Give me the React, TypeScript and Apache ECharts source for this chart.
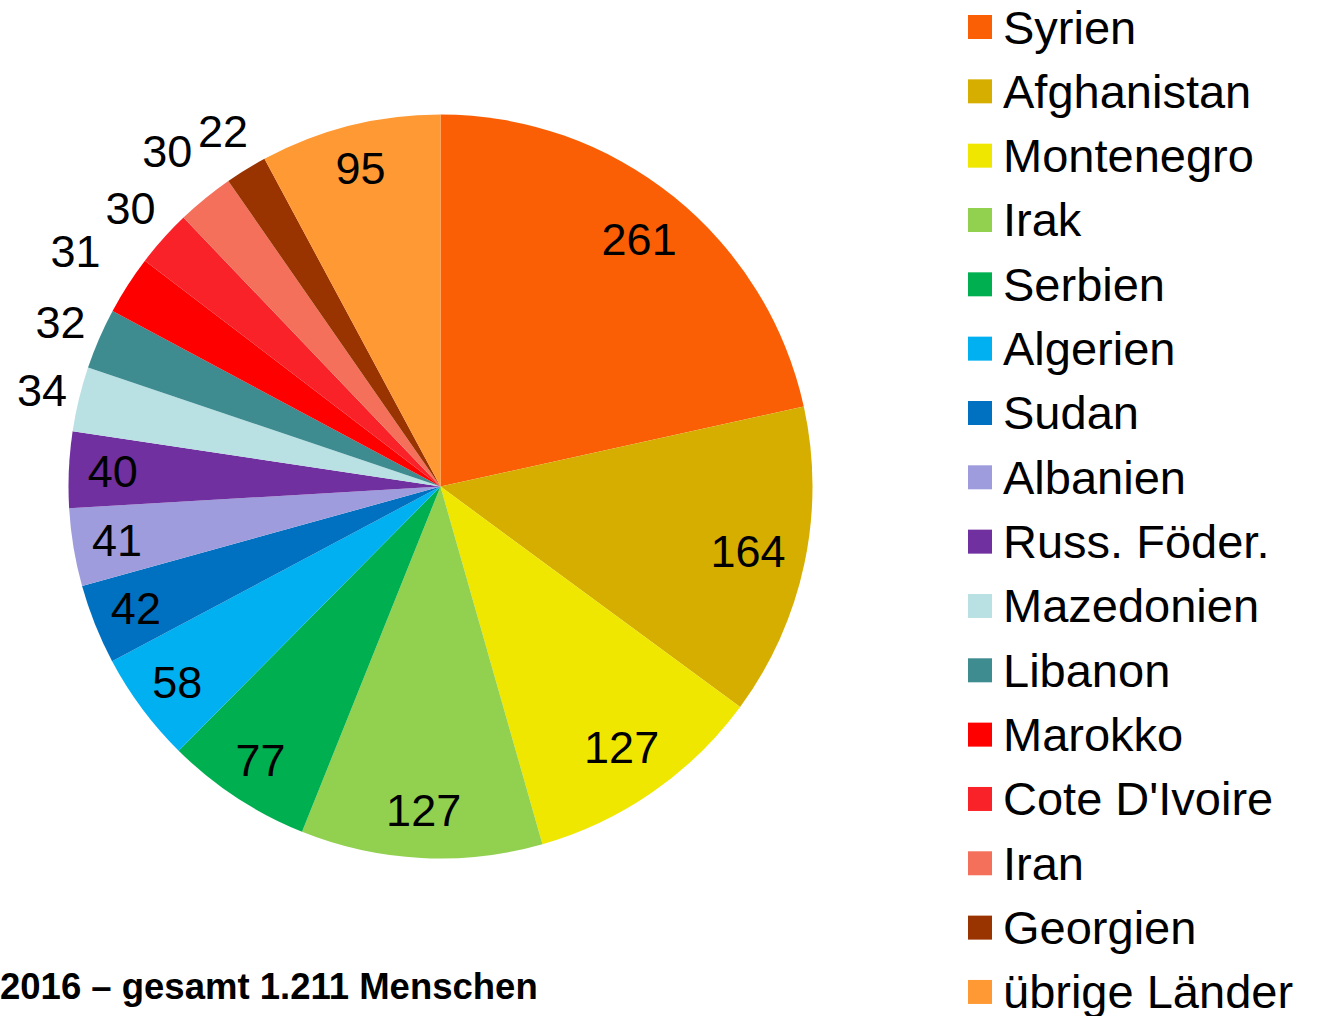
import React, { useEffect, useRef } from "react";
import * as echarts from "echarts";

const countries = [
  "Syrien", "Afghanistan", "Montenegro", "Irak", "Serbien", "Algerien", "Sudan", "Albanien",
  "Russ. Föder.", "Mazedonien", "Libanon", "Marokko", "Cote D'Ivoire", "Iran", "Georgien", "übrige Länder",
];
const persons = [261, 164, 127, 127, 77, 58, 42, 41, 40, 34, 32, 31, 30, 30, 22, 95];
const sliceColors = [
  "#FA5F05", "#D6AE00", "#F0E700", "#92D050", "#00B050", "#00B0F0", "#0070C0", "#9E9CDC",
  "#7030A0", "#B9E0E3", "#3E8B90", "#FF0000", "#F92228", "#F4705A", "#993300", "#FF9933",
];
// labels drawn outside the pie (small slices)
const outsideLabels = ["Mazedonien", "Libanon", "Marokko", "Cote D'Ivoire", "Iran", "Georgien"];
// distance of those outside labels from the pie edge (layout)
const outsideGap = [38, 42, 62, 44, 60, 44];
const titleText = "2016 – gesamt 1.211 Menschen";

const FONT = "'Liberation Sans', Arial, sans-serif";

export default function App() {
  const ref = useRef<HTMLDivElement>(null);
  useEffect(() => {
    document.body.style.margin = "0";
    const chart = echarts.init(ref.current!, undefined, { renderer: "svg" });
    const center = [440.5, 486.5];
    const labelFont = { color: "#000", fontSize: 45, fontFamily: FONT };

    const mainData = countries.map((n, i) => {
      const k = outsideLabels.indexOf(n);
      return {
        name: n,
        value: persons[i],
        itemStyle: { color: sliceColors[i] },
        label: { show: k >= 0 },
        labelLine: { length: k >= 0 ? outsideGap[k] : 40 },
      };
    });
    const innerData = countries.map((n, i) => ({
      name: n,
      value: persons[i],
      label: { show: !outsideLabels.includes(n) },
    }));

    const legendBase = {
      orient: "vertical",
      left: 968,
      padding: 0,
      itemWidth: 24,
      itemHeight: 24,
      itemGap: 17.33,
      icon: "rect",
      selectedMode: false,
      textStyle: {
        fontSize: 47,
        color: "#000",
        fontFamily: FONT,
        padding: [0, 0, 0, 6],
      },
    };

    chart.setOption({
      animation: false,
      legend: [
        { ...legendBase, top: 3.5, data: countries.slice(0, 8) },
        { ...legendBase, top: 3.5 + 8 * 64.33, data: countries.slice(8) },
      ],
      graphic: [
        {
          type: "text",
          left: 0,
          top: 968,
          style: {
            text: titleText,
            font: `bold 36.5px ${FONT}`,
            fill: "#000",
          },
        },
      ],
      series: [
        {
          type: "pie",
          center,
          radius: [0, 372],
          startAngle: 90,
          clockwise: true,
          avoidLabelOverlap: false,
          label: { position: "outside", formatter: "{c}", ...labelFont },
          labelLine: { show: true, length: 40, length2: 0, lineStyle: { opacity: 0 } },
          labelLayout: (p: any) => {
            const pts = p.labelLinePoints;
            if (!pts || pts.length < 2) return {};
            return { x: pts[1][0], y: pts[1][1], align: "center", verticalAlign: "middle" };
          },
          emphasis: { disabled: true },
          data: mainData,
        },
        {
          type: "pie",
          silent: true,
          center,
          radius: [300, 350],
          startAngle: 90,
          clockwise: true,
          avoidLabelOverlap: false,
          itemStyle: { color: "rgba(0,0,0,0)" },
          label: { position: "inside", formatter: "{c}", ...labelFont },
          labelLine: { show: false },
          labelLayout: (p: any) => {
            const r = p.labelRect;
            if (!r) return {};
            const lx = r.x + r.width / 2;
            const ly = r.y + r.height / 2;
            const dx = lx - center[0];
            const dy = ly - center[1];
            const d = Math.hypot(dx, dy) || 1;
            const nd = d - 0.6 * Math.max(0, r.width - 52) * Math.sqrt(Math.abs(dx / d));
            return {
              x: center[0] + (dx / d) * nd,
              y: center[1] + (dy / d) * nd,
              align: "center",
              verticalAlign: "middle",
            };
          },
          emphasis: { disabled: true },
          data: innerData,
          z: 5,
        },
      ],
    });
    return () => chart.dispose();
  }, []);
  return <div ref={ref} style={{ width: 1317, height: 1016 }} />;
}
